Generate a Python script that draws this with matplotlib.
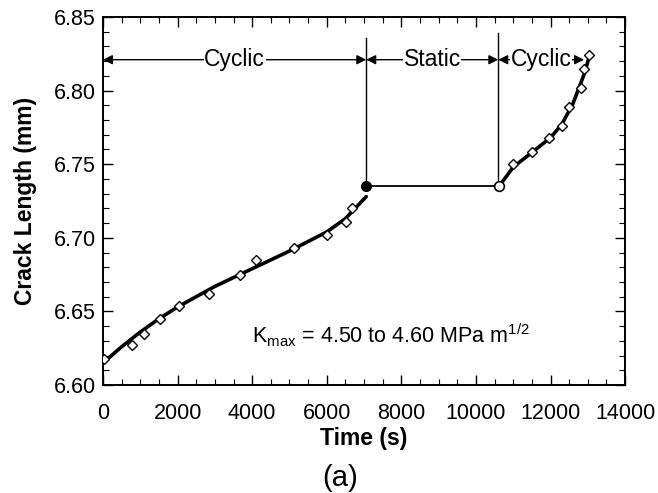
#!/usr/bin/env python
# crack length vs time, cyclic / static / cyclic loading

import matplotlib
matplotlib.use('Agg')
import matplotlib.pyplot as plt
from matplotlib.ticker import MultipleLocator, FormatStrFormatter

plt.rcParams['font.family'] = ['Liberation Sans', 'DejaVu Sans']
plt.rcParams['mathtext.fontset'] = 'custom'
plt.rcParams['mathtext.rm'] = 'Liberation Sans'

# measured points (diamonds)
t_meas1 = [40, 770, 1100, 1540, 2050, 2830, 3670, 4090, 5110, 6020, 6520, 6680]
a_meas1 = [6.618, 6.627, 6.635, 6.645, 6.654, 6.662, 6.675, 6.685, 6.693, 6.702, 6.711, 6.720]
t_meas2 = [10990, 11510, 11950, 12320, 12500, 12810, 12900, 13040]
a_meas2 = [6.750, 6.758, 6.768, 6.776, 6.789, 6.802, 6.815, 6.824]

# fitted curves (thick lines)
t_fit1 = [0, 500, 1000, 1500, 2000, 3000, 4000, 5000, 6000, 6500, 7060]
a_fit1 = [6.615, 6.626, 6.636, 6.645, 6.653, 6.667, 6.679, 6.691, 6.704, 6.713, 6.728]
t_fit2 = [10620, 11000, 11500, 12000, 12300, 12600, 12900, 13050]
a_fit2 = [6.735, 6.748, 6.758, 6.768, 6.777, 6.791, 6.811, 6.824]

# static hold
t_hold = [7060, 10620]
a_hold = [6.735, 6.735]

# phase boundaries and labels
t_bounds = [0, 7060, 10600, 12900]
phase_labels = ['Cyclic', 'Static', 'Cyclic']
a_arrow = 6.821

fig = plt.figure(figsize=(6.58, 4.93), dpi=100)
ax = fig.add_axes([0.1565, 0.219, 0.7935, 0.7465])

ax.plot(t_fit1, a_fit1, color='k', lw=2.6, solid_capstyle='round', zorder=3)
ax.plot(t_fit2, a_fit2, color='k', lw=2.6, solid_capstyle='round', zorder=3)
ax.plot(t_hold, a_hold, color='k', lw=1.3, zorder=3)
ax.plot(t_meas1, a_meas1, 'D', ms=5.5, mfc='white', mec='k', mew=1.0, zorder=4)
ax.plot(t_meas2, a_meas2, 'D', ms=5.5, mfc='white', mec='k', mew=1.0, zorder=4)
ax.plot(t_hold[0], a_hold[0], 'o', ms=7, mfc='k', mec='k', zorder=5)
ax.plot(t_hold[1], a_hold[1], 'o', ms=7, mfc='white', mec='k', mew=1.2, zorder=5)

# vertical boundary lines
ax.plot([t_bounds[1], t_bounds[1]], [a_hold[0], 6.836], color='k', lw=1.0)
ax.plot([t_bounds[2], t_bounds[2]], [a_hold[1], 6.839], color='k', lw=1.0)

for i, lab in enumerate(phase_labels):
    t0, t1 = t_bounds[i], t_bounds[i + 1]
    ax.annotate('', xy=(t0, a_arrow), xytext=(t1, a_arrow),
                arrowprops=dict(arrowstyle='<|-|>', color='k', lw=1.0,
                                mutation_scale=14, shrinkA=0, shrinkB=0))
    ax.text((t0 + t1) / 2, a_arrow, lab, ha='center', va='center', fontsize=16.5,
            bbox=dict(facecolor='white', edgecolor='none', pad=0.3))

ax.text(4000, 6.6285, r'K$_{\mathregular{max}}$ = 4.50 to 4.60 MPa m$^{\mathregular{1/2}}$',
        fontsize=15.5, ha='left', va='baseline')

ax.set_xlim(0, 14000)
ax.set_ylim(6.60, 6.85)
ax.xaxis.set_major_locator(MultipleLocator(2000))
ax.xaxis.set_minor_locator(MultipleLocator(500))
ax.yaxis.set_major_locator(MultipleLocator(0.05))
ax.yaxis.set_minor_locator(MultipleLocator(0.01))
ax.yaxis.set_major_formatter(FormatStrFormatter('%.2f'))
ax.tick_params(which='both', direction='in', top=True, right=True, labelsize=15.5)
ax.tick_params(which='major', length=7, width=1)
ax.tick_params(which='minor', length=4, width=0.8)
ax.tick_params(axis='x', which='major', pad=13)
ax.tick_params(axis='y', which='major', pad=5)
for s in ax.spines.values():
    s.set_linewidth(1.4)

ax.set_xlabel('Time (s)', fontsize=16.5, fontweight='bold', labelpad=2)
ax.set_ylabel('Crack Length (mm)', fontsize=16.5, fontweight='bold', labelpad=12)
fig.text(0.517, 0.002, '(a)', fontsize=21, ha='center', va='bottom')

fig.savefig('out.png', dpi=100)
